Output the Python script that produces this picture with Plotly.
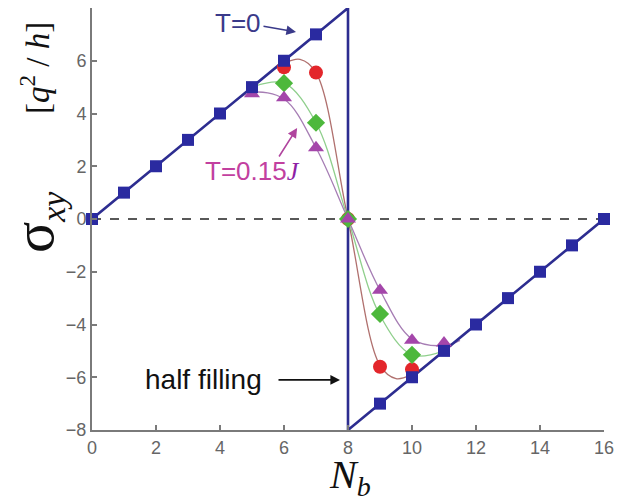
import plotly.graph_objects as go

# --- T = 0 sawtooth Hall conductance ---
nb_t0 = [0, 1, 2, 3, 4, 5, 6, 7, 9, 10, 11, 12, 13, 14, 15, 16]
sxy_t0 = [0, 1, 2, 3, 4, 5, 6, 7, -7, -6, -5, -4, -3, -2, -1, 0]
jump_nb = 8
jump_top, jump_bottom = 8, -8

# --- finite temperature points ---
nb_red = [6, 7, 8, 9, 10]
sxy_red = [5.75, 5.55, 0, -5.6, -5.7]
nb_green = [6, 7, 8, 9, 10]
sxy_green = [5.15, 3.65, 0, -3.6, -5.15]
nb_purple = [5, 6, 7, 8, 9, 10, 11]
sxy_purple = [4.75, 4.6, 2.7, 0, -2.7, -4.6, -4.7]

# --- smooth guide curves through the finite-T points ---
fit_red_x = [5.5, 6, 6.5, 7, 8, 9, 9.5, 10, 10.5]
fit_red_y = [5.5, 5.9, 6.05, 5.55, 0, -5.55, -6.05, -5.9, -5.5]
fit_green_x = [5, 6, 7, 8, 9, 10, 11]
fit_green_y = [5, 5.15, 3.65, 0, -3.65, -5.15, -5]
fit_purple_x = [4.5, 5, 6, 7, 8, 9, 10, 11, 11.5]
fit_purple_y = [4.5, 4.8, 4.55, 2.7, 0, -2.7, -4.55, -4.8, -4.6]

x_ticks = [0, 2, 4, 6, 8, 10, 12, 14, 16]
y_ticks = [-8, -6, -4, -2, 0, 2, 4, 6, 8]

NAVY = "#2d2d90"
AXIS = "#7a7a7a"
SANS = "Liberation Sans, Arial"

fig = go.Figure()

# dashed zero reference line
fig.add_trace(go.Scatter(x=[0, 16], y=[0, 0], mode="lines",
                         line=dict(color="#222222", width=1.6, dash="dash"),
                         hoverinfo="skip", cliponaxis=False))

# guide curves
for fx, fy, col in [(fit_red_x, fit_red_y, "#b0706e"),
                    (fit_green_x, fit_green_y, "#8fcf8c"),
                    (fit_purple_x, fit_purple_y, "#a67db4")]:
    fig.add_trace(go.Scatter(x=fx, y=fy, mode="lines",
                             line=dict(color=col, width=1.3, shape="spline", smoothing=1.0),
                             cliponaxis=False))

# T = 0 line with the jump at half filling
line_x = nb_t0[:8] + [jump_nb, jump_nb] + nb_t0[8:]
line_y = sxy_t0[:8] + [jump_top, jump_bottom] + sxy_t0[8:]
fig.add_trace(go.Scatter(x=line_x, y=line_y, mode="lines",
                         line=dict(color=NAVY, width=2.6), cliponaxis=False))

# finite-T markers
fig.add_trace(go.Scatter(x=nb_red, y=sxy_red, mode="markers",
                         marker=dict(symbol="circle", size=14, color="#e3262b"),
                         cliponaxis=False))
fig.add_trace(go.Scatter(x=nb_green, y=sxy_green, mode="markers",
                         marker=dict(symbol="diamond", size=14, color="#4db83c"),
                         cliponaxis=False))
fig.add_trace(go.Scatter(x=nb_purple, y=sxy_purple, mode="markers",
                         marker=dict(symbol="triangle-up", size=14, color="#a446aa"),
                         cliponaxis=False))

# T = 0 markers on top
fig.add_trace(go.Scatter(x=nb_t0, y=sxy_t0, mode="markers",
                         marker=dict(symbol="square", size=12, color="#2a2aa0"),
                         cliponaxis=False))

annotations = [
    dict(x=4.56, y=7.43, xref="x", yref="y", text="T=0", showarrow=False,
         xanchor="center", yanchor="middle",
         font=dict(family=SANS, size=26, color="#3a3a8a")),
    dict(x=6.375, y=7.09, xref="x", yref="y", ax=-34, ay=-6, text="", showarrow=True,
         arrowhead=2, arrowsize=1.2, arrowwidth=1.6, arrowcolor="#3a3a8a"),
    dict(x=5.0, y=1.82, xref="x", yref="y",
         text="T=0.15<span style='font-family:Liberation Serif;font-style:italic;color:#8e1fa6'>J</span>",
         showarrow=False, xanchor="center", yanchor="middle",
         font=dict(family=SANS, size=26, color="#c2409f")),
    dict(x=6.41, y=3.45, xref="x", yref="y", ax=-19, ay=30, text="", showarrow=True,
         arrowhead=2, arrowsize=1.2, arrowwidth=1.6, arrowcolor="#b0449e"),
    dict(x=3.47, y=-6.07, xref="x", yref="y", text="half filling", showarrow=False,
         xanchor="center", yanchor="middle",
         font=dict(family=SANS, size=28, color="#111111")),
    dict(x=7.75, y=-6.1, xref="x", yref="y", ax=-63, ay=0, text="", showarrow=True,
         arrowhead=2, arrowsize=1.2, arrowwidth=1.6, arrowcolor="#111111"),
    # axis titles
    dict(x=(350 - 92) / 512, y=(430 - 477) / 422, xref="paper", yref="paper",
         xanchor="center", yanchor="middle",
         text="<i>N</i><sub><i>b</i></sub>", showarrow=False,
         font=dict(family="Liberation Serif", size=40, color="#111111")),
    dict(x=(36 - 92) / 512, y=(430 - 222) / 422, xref="paper", yref="paper",
         xanchor="center", yanchor="middle",
         text="σ<sub><span style='font-size:34px'><i>xy</i></span></sub>",
         textangle=-90, showarrow=False,
         font=dict(family="Liberation Serif", size=58, color="#111111")),
    dict(x=(35 - 92) / 512, y=(430 - 68) / 422, xref="paper", yref="paper",
         xanchor="center", yanchor="middle",
         text="[<i>q</i><sup>2</sup> / <i>h</i>]", textangle=-90, showarrow=False,
         font=dict(family="Liberation Serif", size=33, color="#111111")),
]

fig.update_layout(
    width=635, height=502,
    margin=dict(l=92, r=31, t=8, b=72),
    paper_bgcolor="white", plot_bgcolor="white",
    showlegend=False,
    annotations=annotations,
    xaxis=dict(range=[0, 16], tickvals=x_ticks, ticks="inside", ticklen=5,
               tickwidth=1.5, tickcolor=AXIS, showline=True, linecolor=AXIS,
               linewidth=2, showgrid=False, zeroline=False,
               tickfont=dict(family=SANS, size=18, color="#666666")),
    yaxis=dict(range=[-8, 8], tickvals=y_ticks, ticks="inside", ticklen=5,
               tickwidth=1.5, tickcolor=AXIS, showline=True, linecolor=AXIS,
               linewidth=2, showgrid=False, zeroline=False,
               tickfont=dict(family=SANS, size=18, color="#666666")),
)

fig.write_html("out.html")
